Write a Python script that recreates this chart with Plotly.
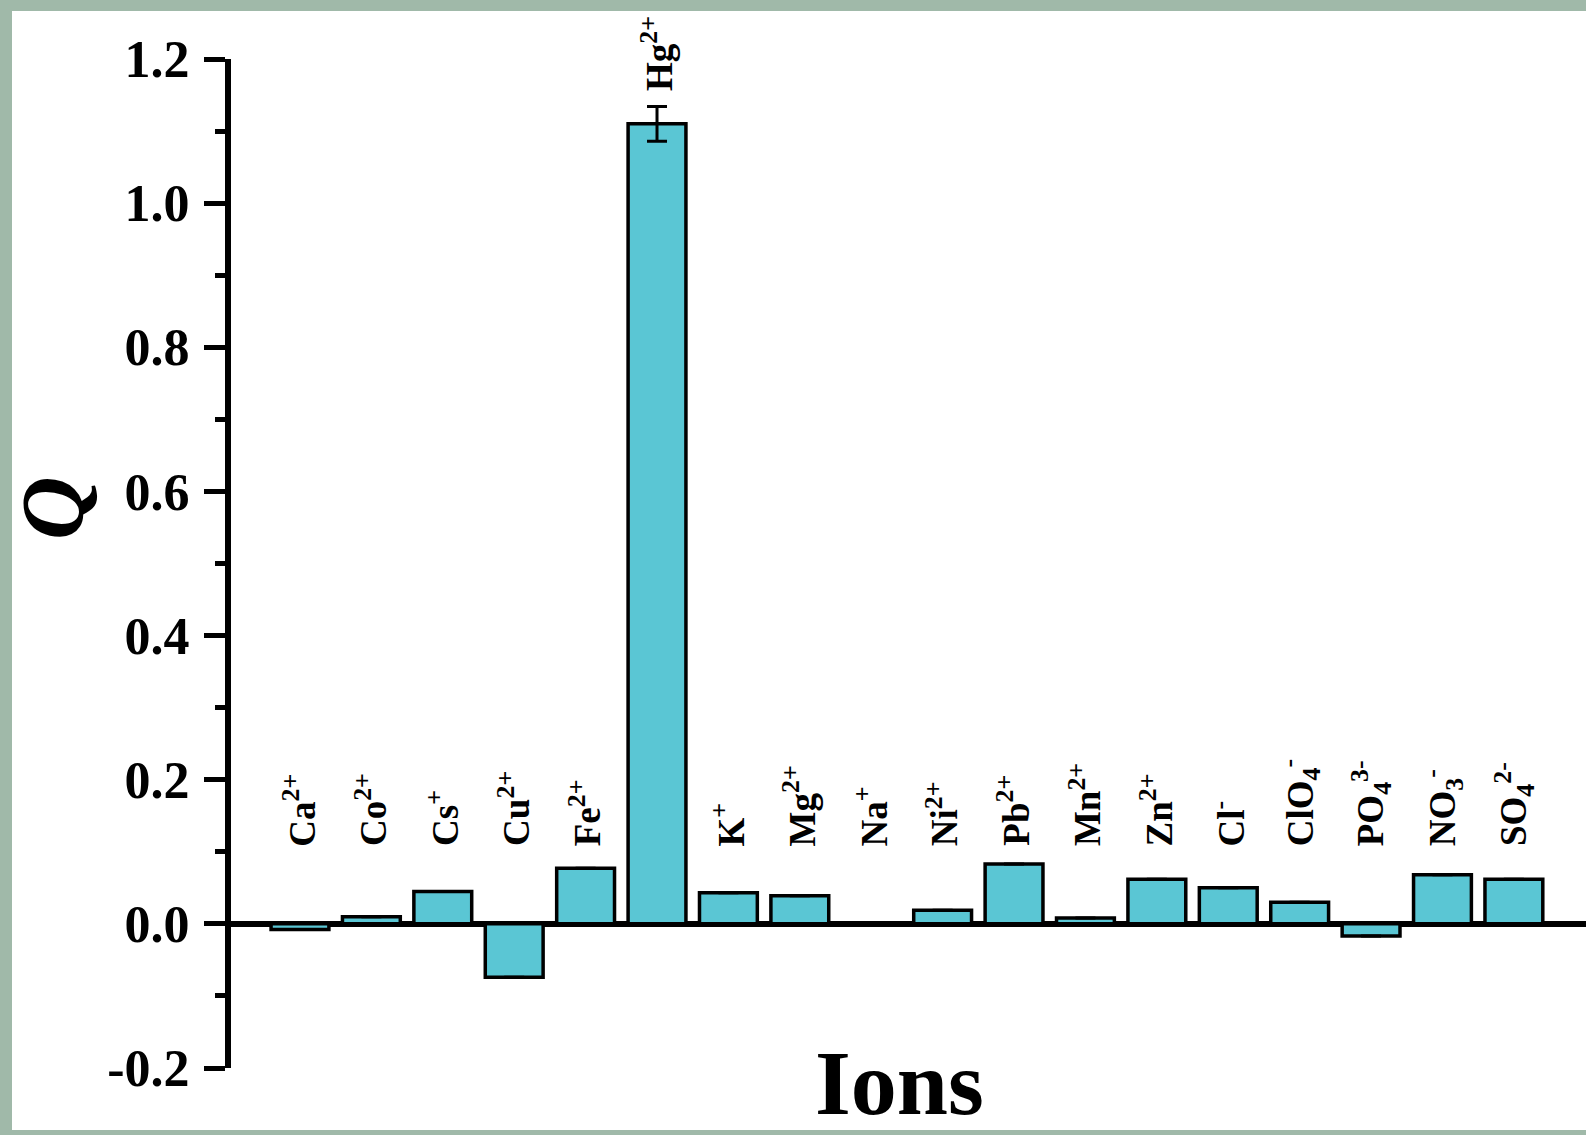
import plotly.graph_objects as go

# Response Q of the probe toward each ion
ions = ["Ca", "Co", "Cs", "Cu", "Fe", "Hg", "K", "Mg", "Na", "Ni",
        "Pb", "Mn", "Zn", "Cl", "ClO4", "PO4", "NO3", "SO4"]
ion_labels = ["Ca<sup>2+</sup>", "Co<sup>2+</sup>", "Cs<sup>+</sup>", "Cu<sup>2+</sup>",
              "Fe<sup>2+</sup>", "Hg<sup>2+</sup>", "K<sup>+</sup>", "Mg<sup>2+</sup>",
              "Na<sup>+</sup>", "Ni<sup>2+</sup>", "Pb<sup>2+</sup>", "Mn<sup>2+</sup>",
              "Zn<sup>2+</sup>", "Cl<sup>-</sup>", "ClO<sub>4</sub><sup>-</sup>",
              "PO<sub>4</sub><sup>3-</sup>", "NO<sub>3</sub><sup>-</sup>",
              "SO<sub>4</sub><sup>2-</sup>"]
q_values = [-0.008, 0.010, 0.045, -0.074, 0.077, 1.110, 0.043, 0.039, 0.0, 0.019,
            0.083, 0.008, 0.062, 0.050, 0.030, -0.017, 0.068, 0.062]
q_errors = [0, 0, 0, 0, 0, 0.024, 0, 0, 0, 0, 0, 0, 0, 0, 0, 0, 0, 0]
y_ticks = [-0.2, 0.0, 0.2, 0.4, 0.6, 0.8, 1.0, 1.2]
y_tick_text = ["-0.2", "0.0", "0.2", "0.4", "0.6", "0.8", "1.0", "1.2"]

SERIF = "Liberation Serif"
W, H = 1586, 1135
ML, MR, MT, MB = 231, 0, 59, 67
PW, PH = W - ML - MR, H - MT - MB


def px_x(px):
    """Page x in pixels -> plot-area paper fraction."""
    return (px - ML) / PW


def px_y(py):
    """Page y in pixels (from top) -> plot-area paper fraction."""
    return (H - MB - py) / PH


fig = go.Figure()
fig.add_trace(go.Bar(
    x=ions, y=q_values, width=0.81,
    marker=dict(color="#5ac6d4", line=dict(color="black", width=3.5)),
    error_y=dict(type="data", array=q_errors, visible=True,
                 color="black", thickness=3, width=10),
))

# Ion labels, rotated, sitting above the bars
label_base = 0.105
for ion, lab, v, e in zip(ions, ion_labels, q_values, q_errors):
    fig.add_annotation(
        x=ion, y=max(label_base, v + e + 0.018), xref="x", yref="y",
        text=lab, textangle=-90, showarrow=False,
        xanchor="center", yanchor="bottom",
        font=dict(family=SERIF, size=37, color="black", weight="bold"),
    )

# Axis titles
fig.add_annotation(
    x=px_x(52), y=px_y(508), xref="paper", yref="paper",
    text="<i>Q</i>", textangle=-90, showarrow=False,
    xanchor="center", yanchor="middle",
    font=dict(family=SERIF, size=88, color="black", weight="bold"),
)
fig.add_annotation(
    x=px_x(899), y=px_y(1136), xref="paper", yref="paper",
    text="Ions", showarrow=False, xanchor="center", yanchor="bottom",
    font=dict(family=SERIF, size=92, color="black", weight="bold"),
)

# White panel inside the tinted frame
fig.add_shape(type="rect", xref="paper", yref="paper",
              x0=px_x(12), x1=px_x(W + 2), y0=px_y(1130), y1=px_y(11),
              fillcolor="white", line=dict(width=0), layer="below")

fig.update_layout(
    width=W, height=H,
    margin=dict(l=ML, r=MR, t=MT, b=MB),
    paper_bgcolor="#a0b9a9",
    plot_bgcolor="rgba(0,0,0,0)",
    showlegend=False,
    bargap=0.19,
)
fig.update_xaxes(
    type="category", range=[-0.966, 18.01],
    showticklabels=False, ticks="", showline=False, showgrid=False,
    zeroline=False,
)
fig.update_yaxes(
    range=[-0.2, 1.2], tickvals=y_ticks, ticktext=y_tick_text,
    ticks="outside", ticklen=21, tickwidth=5, tickcolor="black",
    minor=dict(dtick=0.1, tick0=0, ticks="outside", ticklen=10,
               tickwidth=5, tickcolor="black", showgrid=False),
    showline=True, linewidth=6, linecolor="black",
    showgrid=False,
    zeroline=True, zerolinewidth=6, zerolinecolor="black",
    ticklabelstandoff=4,
    tickfont=dict(family=SERIF, size=52, color="black", weight="bold"),
)

fig.write_html("out.html")
